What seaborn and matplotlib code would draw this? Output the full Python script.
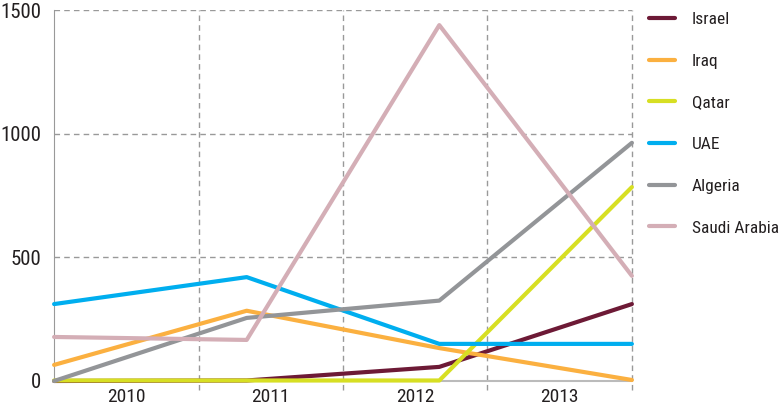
import pandas as pd
import matplotlib.pyplot as plt
import seaborn as sns

# values
years = ['2010', '2011', '2012', '2013']
countries = ['Israel', 'Iraq', 'Qatar', 'UAE', 'Algeria', 'Saudi Arabia']
israel = [0, 2, 57, 311]
iraq = [65, 284, 133, 4]
qatar = [2, 2, 2, 784]
uae = [311, 420, 150, 150]
algeria = [0, 255, 325, 963]
saudi = [178, 166, 1439, 425]
colors = ['#6d1a36', '#fbb040', '#d7df23', '#00aeef', '#939598', '#d4aeb6']

series = [israel, iraq, qatar, uae, algeria, saudi]
rows = []
for name, vals in zip(countries, series):
    for i, v in enumerate(vals):
        rows.append({'pos': i, 'year': years[i], 'country': name, 'value': v})
data = pd.DataFrame(rows)

sns.set_style('white')
plt.rcParams['font.family'] = ['Roboto Condensed', 'DejaVu Sans']

fig = plt.figure(figsize=(7.84, 4.09), dpi=100)
ax = fig.add_axes([0.069, 0.0685, 0.737, 0.907])

sns.lineplot(data=data, x='pos', y='value', hue='country', hue_order=countries,
             palette=dict(zip(countries, colors)), linewidth=3, ax=ax,
             clip_on=False, zorder=3)

ax.set_xlim(0, 3)
ax.set_ylim(0, 1500)

# year labels sit in the middle of four equal bands
band = 3 / 4
ax.set_xticks([band * (i + 0.5) for i in range(4)])
ax.set_xticklabels(years, fontsize=14, color='#231f20')
ax.tick_params(axis='x', length=0, pad=5)
ax.set_yticks([0, 500, 1000, 1500])
ax.set_yticklabels(['0', '500', '1000', '1500'], fontsize=15, color='#231f20')
ax.tick_params(axis='y', length=5, color='#999999', pad=4)

for v in [500, 1000, 1500]:
    ax.axhline(v, color='#999999', ls=(0, (4, 3)), lw=1, zorder=1)
for i in range(1, 5):
    ax.axvline(band * i, ymin=-0.025, ymax=1, color='#999999', ls=(0, (4, 3)),
               lw=1, zorder=1, clip_on=False)

for s in ['top', 'right']:
    ax.spines[s].set_visible(False)
ax.spines['left'].set_color('#999999')
ax.spines['bottom'].set_color('#bbbbbb')
ax.spines['bottom'].set_linewidth(1.5)

ax.set_xlabel('')
ax.set_ylabel('')
ax.legend(loc='upper left', bbox_to_anchor=(1.018, 1.014), borderaxespad=0,
          frameon=False, fontsize=12.5, handlelength=1.5, handletextpad=0.95,
          labelspacing=1.53, labelcolor='#231f20')

plt.savefig('out.png', dpi=100)
